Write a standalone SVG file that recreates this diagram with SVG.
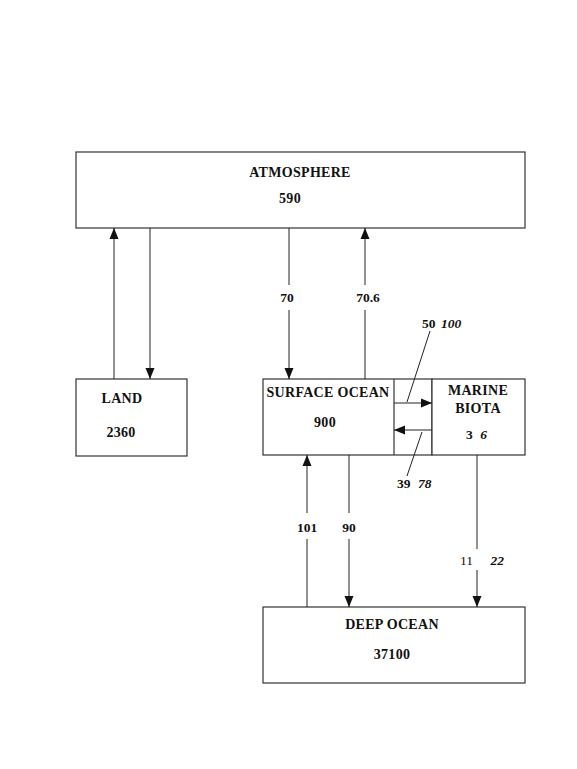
<svg xmlns="http://www.w3.org/2000/svg" width="577" height="769" viewBox="0 0 577 769">
<style>
.box{fill:#fff;stroke:#333;stroke-width:1.2}
.ln{fill:none;stroke:#222;stroke-width:1}
.t{font-family:"Liberation Serif","Times New Roman",serif;font-weight:bold;font-size:14px;letter-spacing:0.3px;fill:#111;text-anchor:middle}
.n{font-family:"Liberation Serif","Times New Roman",serif;font-weight:bold;font-size:13.5px;fill:#111}
.i{font-style:italic}
.r{font-weight:normal}
</style>
<defs>
<marker id="ah" markerUnits="userSpaceOnUse" markerWidth="11" markerHeight="10" viewBox="0 0 11 9" refX="11" refY="4.5" orient="auto">
<path d="M0,0 L11,4.5 L0,9 z" fill="#111"/>
</marker>
</defs>
<rect width="577" height="769" fill="#fff"/>
<g id="atmosphere">
<rect class="box" x="76" y="152" width="449" height="76"/>
<text class="t" x="300" y="177">ATMOSPHERE</text>
<text class="t" x="290" y="203">590</text>
</g>
<g id="land">
<rect class="box" x="76" y="379" width="111" height="77"/>
<text class="t" x="122" y="403">LAND</text>
<text class="t" x="121" y="437">2360</text>
</g>
<g id="surface-ocean">
<rect class="box" x="263" y="379" width="169" height="76"/>
<line class="box" x1="394" y1="379" x2="394" y2="455"/>
<text class="t" x="328" y="397">SURFACE OCEAN</text>
<text class="t" x="325" y="427">900</text>
</g>
<g id="marine-biota">
<rect class="box" x="432" y="379" width="93" height="76"/>
<text class="t" x="478" y="395">MARINE</text>
<text class="t" x="478" y="413">BIOTA</text>
<text class="n" x="466" y="439">3 <tspan class="i" dx="4">6</tspan></text>
</g>
<g id="deep-ocean">
<rect class="box" x="263" y="607" width="262" height="76"/>
<text class="t" x="392" y="629">DEEP OCEAN</text>
<text class="t" x="392" y="659">37100</text>
</g>
<g id="connectors">
<path class="ln" d="M114,379 V228" marker-end="url(#ah)"/>
<path class="ln" d="M150,228 V379" marker-end="url(#ah)"/>
<path class="ln" d="M289,228 V285 M289,310 V379" marker-end="url(#ah)"/>
<path class="ln" d="M365,379 V310 M365,285 V228" marker-end="url(#ah)"/>
<path class="ln" d="M394,403 H432" marker-end="url(#ah)"/>
<path class="ln" d="M432,430 H394" marker-end="url(#ah)"/>
<path class="ln" d="M407,402 L430,331"/>
<path class="ln" d="M422,432 L407,476"/>
<path class="ln" d="M307,607 V539 M307,513 V455" marker-end="url(#ah)"/>
<path class="ln" d="M349,455 V513 M349,539 V607" marker-end="url(#ah)"/>
<path class="ln" d="M477,455 V549 M477,570 V607" marker-end="url(#ah)"/>
</g>
<g id="labels">
<text class="n" x="287" y="302" text-anchor="middle">70</text>
<text class="n" x="368" y="302" text-anchor="middle">70.6</text>
<text class="n" x="422" y="328">50 <tspan class="i" dx="2">100</tspan></text>
<text class="n" x="397" y="488">39 <tspan class="i" dx="4">78</tspan></text>
<text class="n" x="307" y="532" text-anchor="middle">101</text>
<text class="n" x="349" y="532" text-anchor="middle">90</text>
<text class="n r" x="460" y="565">11 <tspan class="i" style="font-weight:bold" dx="14">22</tspan></text>
</g>
</svg>
